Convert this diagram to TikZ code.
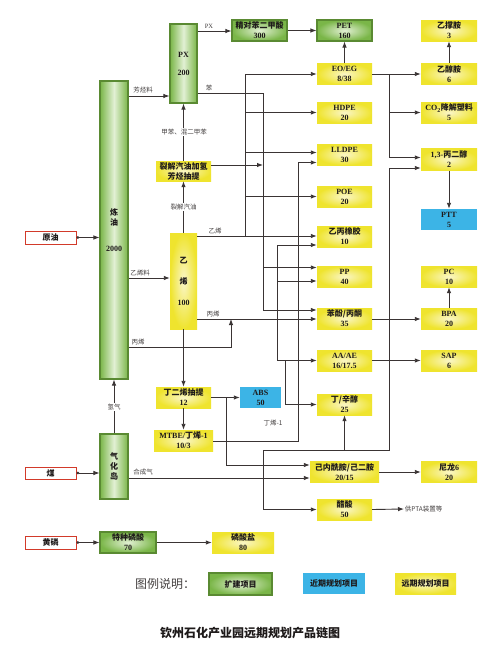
\documentclass[tikz,border=0pt]{standalone}
\usepackage{fontspec}
\setmainfont{Liberation Serif}
\newfontfamily\cjk{Noto Sans CJK SC}
\usetikzlibrary{arrows.meta}
\definecolor{gM}{HTML}{7AB648}
\definecolor{gL}{HTML}{E2F0D4}
\definecolor{gB}{HTML}{5A8A32}
\definecolor{yM}{HTML}{EFE42E}
\definecolor{yL}{HTML}{FAF6C8}
\definecolor{bM}{HTML}{3CB4E6}
\definecolor{rB}{HTML}{D23A2A}
\definecolor{lc}{HTML}{3A3434}
\definecolor{tc}{HTML}{1E1A1A}
\definecolor{labc}{HTML}{444040}
\newcommand\C[1]{{\cjk #1}}
\tikzset{
  sz/.style 2 args={minimum width=#1pt, minimum height=#2pt},
  base/.style={rectangle, inner sep=1pt, align=center, font=\fontsize{8}{10}\selectfont\bfseries, text=tc},
  gbox/.style={base, draw=gB, line width=1.1pt, inner color=gL, outer color=gM},
  gtall/.style={base, draw=gB, line width=1.1pt, left color=gM, right color=gM, middle color=gL},
  ybox/.style={base, inner color=yL, outer color=yM},
  bbox/.style={base, fill=bM},
  rbox/.style={base, draw=rB, line width=1pt, fill=white},
  arr/.style={draw=lc, line width=0.9pt, -{Latex[length=6pt,width=4.5pt]}},
  ln/.style={draw=lc, line width=0.9pt},
  src/.style={draw=lc, line width=0.8pt, {Circle[length=2.6pt]}-{Latex[length=6pt,width=4.5pt]}},
  lab/.style={inner sep=0.6pt, font=\cjk\fontsize{6.5}{7}\selectfont, text=labc},
  labw/.style={lab, fill=white},
}
\begin{document}
\begin{tikzpicture}[x=1pt,y=-1pt]
\fill[white] (0,0) rectangle (500,672);
\useasboundingbox (0,0) rectangle (500,672);

% ---------- green (expansion) ----------
\node[gtall, sz={27}{79}] (px) at (183.5,63.5) {PX\\[8pt]200};
\node[gtall, sz={28}{298}] (ref) at (114,230) {\C{炼}\\\C{油}\\[16pt]2000};
\node[gbox, sz={55}{21}] (pta) at (259.5,30.5) {\C{精对苯二甲酸}\\300};
\node[gbox, sz={55}{21}] (pet) at (344.5,30.5) {PET\\160};
\node[gtall, sz={28}{65}] (gas) at (114,466.5) {\C{气}\\\C{化}\\\C{岛}};
\node[gbox, sz={56}{21}] (phos) at (128,542.5) {\C{特种磷酸}\\70};

% ---------- yellow (long term) ----------
\node[ybox, sz={55}{21}] (eoeg) at (344.5,74) {EO/EG\\8/38};
\node[ybox, sz={55}{21}] (hdpe) at (344.5,112.5) {HDPE\\20};
\node[ybox, sz={55}{21}] (lldpe) at (344.5,154.5) {LLDPE\\30};
\node[ybox, sz={55}{21}] (poe) at (344.5,196.5) {POE\\20};
\node[ybox, sz={55}{21}] (epr) at (344.5,236.5) {\C{乙丙橡胶}\\10};
\node[ybox, sz={55}{21}] (pp) at (344.5,276.5) {PP\\40};
\node[ybox, sz={55}{21}] (phenol) at (344.5,318.5) {\C{苯酚/丙酮}\\35};
\node[ybox, sz={55}{21}] (aa) at (344.5,360.5) {AA/AE\\16/17.5};
\node[ybox, sz={55}{21}] (oxo) at (344.5,404.5) {\C{丁/辛醇}\\25};
\node[ybox, sz={69}{21}] (capro) at (344.5,472) {\C{己内酰胺/己二胺}\\20/15};
\node[ybox, sz={55}{21}] (acetic) at (344.5,509.5) {\C{醋酸}\\50};
\node[ybox, sz={55}{20}] (pyro) at (183.5,171) {\C{裂解汽油加氢}\\\C{芳烃抽提}};
\node[ybox, sz={27}{96}] (eth) at (183.5,281) {\C{乙}\\[11pt]\C{烯}\\[11pt]100};
\node[ybox, sz={55}{21}] (bd) at (183.5,397.5) {\C{丁二烯抽提}\\12};
\node[ybox, sz={59}{21}] (mtbe) at (183.5,440.5) {MTBE/\C{丁烯}-1\\10/3};
\node[ybox, sz={62}{21}] (phsalt) at (243,542.5) {\C{磷酸盐}\\80};
\node[ybox, sz={56}{21}] (eda) at (449,30.5) {\C{乙撑胺}\\3};
\node[ybox, sz={56}{21}] (mea) at (449,74) {\C{乙醇胺}\\6};
\node[ybox, sz={56}{21}] (co2) at (449,112.5) {CO\textsubscript{2}\C{降解塑料}\\5};
\node[ybox, sz={56}{22}] (pdo) at (449,159.5) {1,3-\C{丙二醇}\\2};
\node[ybox, sz={56}{21}] (pc) at (449,276.5) {PC\\10};
\node[ybox, sz={56}{21}] (bpa) at (449,318.5) {BPA\\20};
\node[ybox, sz={56}{21}] (sap) at (449,360.5) {SAP\\6};
\node[ybox, sz={56}{21}] (nylon) at (449,472) {\C{尼龙}6\\20};

% ---------- blue (near term) ----------
\node[bbox, sz={56}{21}] (ptt) at (449,219.5) {PTT\\5};
\node[bbox, sz={41}{21}] (abs) at (260.5,397.5) {ABS\\50};

% ---------- raw materials ----------
\node[rbox, sz={51}{13}] (crude) at (50.5,237.5) {\C{原油}};
\node[rbox, sz={51}{12}] (coal) at (50.5,473) {\C{煤}};
\node[rbox, sz={51}{13}] (yp) at (50.5,542.5) {\C{黄磷}};

% ---------- junction coordinates ----------
\coordinate (ethv) at (245,236);
\coordinate (bzv) at (263,93);
\coordinate (pv) at (277,319);
\coordinate (pjoin) at (231,319);
\coordinate (j1) at (389,74);
\coordinate (bdj) at (226,397.5);
\coordinate (bt) at (298,441);
\coordinate (sg) at (263,478);
\coordinate (sgt) at (263,450);
\coordinate (aaj) at (285,360.5);

% ---------- connectors ----------
\draw[src] (crude.east) -- (ref.west |- crude.east);
\draw[src] (coal.east) -- (gas.west |- coal.east);
\draw[src] (yp.east) -- (phos.west |- yp.east);
\draw[arr] (phos.east) -- (phsalt.west);

\draw[arr] (ref.east |- 0,96) -- (px.west |- 0,96);
\draw[arr] (px.east |- 0,31) -- (pta.west |- 0,31);
\draw[arr] (pta.east |- 0,30.5) -- (pet.west |- 0,30.5);
\draw[arr] (eoeg.north) -- (pet.south);
\draw[arr] (mea.north) -- (eda.south);
\draw[arr] (eoeg.east) -- (mea.west);
\draw[arr] (j1) |- (co2.west);
\draw[arr] (j1) |- (pdo.west |- 0,157.5);
\draw[arr] (pdo.south) -- (ptt.north);

% ethylene
\draw[arr] (eth.east |- ethv) -- (epr.west |- ethv);
\draw[arr] (ethv) -- (ethv |- eoeg.west) -- (eoeg.west);
\draw[arr] (ethv |- hdpe.west) -- (hdpe.west);
\draw[arr] (ethv |- 0,152.5) -- (lldpe.west |- 0,152.5);
\draw[arr] (ethv |- poe.west) -- (poe.west);

% benzene
\draw[arr] (px.east |- bzv) -- (bzv) -- (bzv |- 0,310) -- (phenol.west |- 0,310);
\draw[arr] (bzv |- 0,267.5) -- (pp.west |- 0,267.5);
\draw[arr] (pyro.east |- 0,165) -- (bzv |- 0,165);
\draw[arr] (pyro.north) -- (px.south);
\draw[arr] (eth.north) -- (pyro.south);

% propylene
\draw[arr] (ref.east |- 0,278) -- (eth.west |- 0,278);
\draw[arr] (eth.east |- pv) -- (phenol.west |- pv);
\draw[arr] (ref.east |- 0,347) -| (pjoin);
\draw[arr] (pv |- aaj) -- (pv |- 0,245) -- (epr.west |- 0,245);
\draw[arr] (pv |- 0,281) -- (pp.west |- 0,281);
\draw[arr] (pv |- aaj) -- (aa.west);
\draw[arr] (aaj) |- (oxo.west);

% C4
\draw[arr] (eth.south) -- (bd.north);
\draw[arr] (bd.south) -- (mtbe.north);
\draw[arr] (bd.east) -- (abs.west);
\draw[arr] (bdj) |- (capro.west |- 0,465);
\draw[arr] (mtbe.east |- bt) -- (bt) -- (bt |- 0,162.5) -- (lldpe.west |- 0,162.5);

% syngas
\draw[arr] (gas.north) -- (ref.south);
\draw[arr] (gas.east |- sg) -- (capro.west |- sg);
\draw[arr] (sg) -- (sgt) -- (389,450) -- (389,168) -- (pdo.west |- 0,168);
\draw[arr] (oxo.south |- sgt) -- (oxo.south);
\draw[arr] (sg) |- (acetic.west);

% downstream
\draw[arr] (capro.east) -- (nylon.west);
\draw[arr] (aa.east) -- (sap.west);
\draw[arr] (phenol.east |- pv) -- (bpa.west |- pv);
\draw[arr] (bpa.north) -- (pc.south);
\node[lab, anchor=west] (supply) at (404,509) {供PTA装置等};
\draw[arr] (acetic.east) -- (supply.west);

% ---------- connector labels ----------
\node[lab, font=\fontsize{6.5}{7}\selectfont] (lpx) at (209,26) {PX};
\node[lab] (l1) at (143,90.5) {芳烃料};
\node[lab] (l2) at (209,88) {苯};
\node[labw] (l3) at (184,132) {甲苯、混二甲苯};
\node[labw] (l4) at (183.5,207) {裂解汽油};
\node[lab] (l5) at (215,231) {乙烯};
\node[lab] (l6) at (140,273) {乙烯料};
\node[lab] (l7) at (213,314) {丙烯};
\node[lab] (l8) at (138,342) {丙烯};
\node[labw] (l9) at (114,407) {氢气};
\node[lab] (l10) at (143,472.5) {合成气};
\node[lab] (l11) at (273,423) {丁烯-1};

% ---------- legend ----------
\node[font=\cjk\fontsize{12}{14}\selectfont, text=labc] (lgt) at (165,584) {图例说明：};
\node[gbox, sz={63}{22}] (lg) at (240.5,584) {\C{扩建项目}};
\node[bbox, sz={62}{21}] (lb) at (334,583.5) {\C{近期规划项目}};
\node[ybox, sz={61}{21}] (ly) at (425.5,583.5) {\C{远期规划项目}};

\node[font=\cjk\bfseries\fontsize{12}{14}\selectfont, text=tc] (title) at (250,633) {钦州石化产业园远期规划产品链图};
\end{tikzpicture}
\end{document}
